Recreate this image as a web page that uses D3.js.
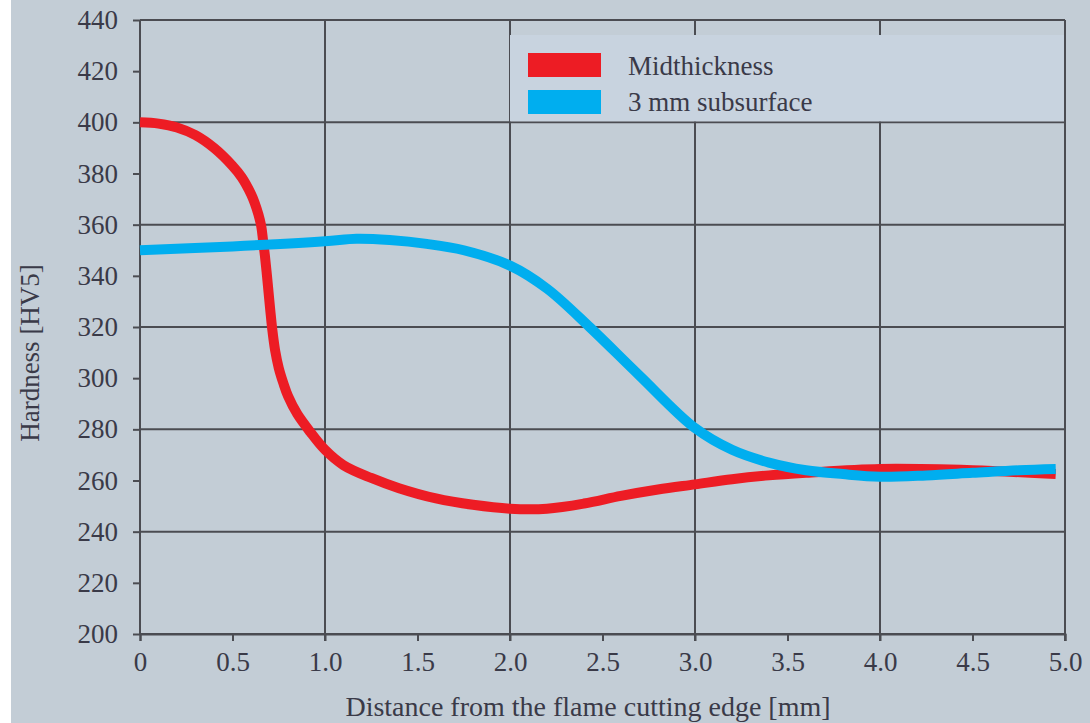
<!DOCTYPE html>
<html>
<head>
<meta charset="utf-8">
<script src="https://cdn.jsdelivr.net/npm/d3@7"></script>
<style>
  html, body { margin: 0; padding: 0; background: #fff; }
  svg { display: block; }
</style>
</head>
<body>
<svg id="chart" width="1090" height="723"></svg>
<script>
// values
var midX  = [0, 0.1, 0.2, 0.3, 0.4, 0.5, 0.55, 0.6, 0.62, 0.64, 0.655, 0.665, 0.675, 0.685, 0.695, 0.705, 0.715, 0.73, 0.75, 0.775, 0.8, 0.85, 0.92, 1.0, 1.1, 1.25, 1.4, 1.6, 1.8, 2.0, 2.2, 2.4, 2.6, 2.8, 3.0, 3.2, 3.4, 3.6, 4.0, 4.5, 4.95]
var midHV = [400, 399.5, 398, 395, 390, 383, 378.5, 372, 368.5, 364, 359.5, 354, 348, 341, 333.5, 326, 319, 311, 304, 298, 293, 286, 279, 272, 266, 261, 257, 253, 250.5, 249, 249, 251, 254, 256.5, 258.5, 260.5, 262, 263, 264.5, 264, 262.5]

var subX  = [0, 0.5, 1.0, 1.17, 1.35, 1.55, 1.75, 2.0, 2.2, 2.43, 2.7, 3.0, 3.2, 3.4, 3.6, 3.8, 4.0, 4.25, 4.5, 4.75, 4.95]
var subHV = [350, 351.5, 353.5, 354.5, 354, 352.5, 350, 344, 335, 320, 301, 280.5, 272, 267, 264, 262.5, 261.5, 262, 263, 264, 264.5]

var xTicks = [0, 0.5, 1.0, 1.5, 2.0, 2.5, 3.0, 3.5, 4.0, 4.5, 5.0]
var xTickLabels = ["0", "0.5", "1.0", "1.5", "2.0", "2.5", "3.0", "3.5", "4.0", "4.5", "5.0"]
var xGrid = [1, 2, 3, 4, 5]
var yTicks = [200, 220, 240, 260, 280, 300, 320, 340, 360, 380, 400, 420, 440]
var yGrid = [200, 240, 280, 320, 360, 400, 440]

var seriesNames = ["Midthickness", "3 mm subsurface"]
var seriesColors = ["#ed1c24", "#00aeef"]

var serif = "'Liberation Serif', 'Times New Roman', 'DejaVu Serif', serif"
var textColor = "#3a3a48"

var svg = d3.select("#chart")
var W = 1090, H = 723
var margin = {left: 140, right: 25, top: 20, bottom: 89}

svg.append("rect").attr("x", 11).attr("y", 0).attr("width", W - 11).attr("height", H).attr("fill", "#c3cdd6")

var x = d3.scaleLinear().domain([0, 5]).range([margin.left, W - margin.right])
var y = d3.scaleLinear().domain([200, 440]).range([H - margin.bottom, margin.top])

var gridColor = "#4b4c52"

// grid
svg.append("g").selectAll("line").data(xGrid).enter().append("line")
  .attr("x1", function(d) { return x(d) }).attr("x2", function(d) { return x(d) })
  .attr("y1", y(440)).attr("y2", y(200) + 7)
  .attr("stroke", gridColor).attr("stroke-width", 2)

svg.append("g").selectAll("line").data(yGrid).enter().append("line")
  .attr("x1", x(0)).attr("x2", x(5))
  .attr("y1", function(d) { return y(d) }).attr("y2", function(d) { return y(d) })
  .attr("stroke", gridColor).attr("stroke-width", 2)

// axes
var yAxis = d3.axisLeft(y).tickValues(yTicks).tickSize(7).tickPadding(15)
var gy = svg.append("g").attr("transform", "translate(" + x(0) + ",0)").call(yAxis)
var xAxis = d3.axisBottom(x).tickValues(xTicks).tickSize(7).tickPadding(11)
  .tickFormat(function(d, i) { return xTickLabels[i] })
var gx = svg.append("g").attr("transform", "translate(0," + y(200) + ")").call(xAxis)

;[gx, gy].forEach(function(g) {
  g.select(".domain").attr("stroke", gridColor).attr("stroke-width", 2)
  g.selectAll(".tick line").attr("stroke", gridColor).attr("stroke-width", 2)
  g.selectAll(".tick text").style("font-size", "27px").style("font-family", serif).attr("fill", textColor)
})
gy.select(".domain").attr("d", "M0," + y(440) + "V" + y(200))

// legend
var lg = svg.append("g")
lg.append("rect").attr("x", 510).attr("y", 35).attr("width", x(5) - 511).attr("height", y(400) - 36)
  .attr("fill", "#c8d3df")
seriesNames.forEach(function(name, i) {
  lg.append("rect").attr("x", 528).attr("y", 53 + i * 37).attr("width", 73).attr("height", 24)
    .attr("fill", seriesColors[i])
  lg.append("text").attr("x", 628).attr("y", 75 + i * 36)
    .style("font-size", "27px").style("font-family", serif).attr("fill", textColor).text(name)
})

// lines
var line = d3.line()
  .x(function(d) { return x(d[0]) })
  .y(function(d) { return y(d[1]) })
  .curve(d3.curveCatmullRom.alpha(0.5))

var midData = d3.zip(midX, midHV)
var subData = d3.zip(subX, subHV)

svg.append("path").datum(midData).attr("d", line)
  .attr("fill", "none").attr("stroke", seriesColors[0]).attr("stroke-width", 10)
svg.append("path").datum(subData).attr("d", line)
  .attr("fill", "none").attr("stroke", seriesColors[1]).attr("stroke-width", 10)

// titles
svg.append("text").attr("x", 588).attr("y", 716).attr("text-anchor", "middle")
  .style("font-size", "28px").style("font-family", serif).attr("fill", textColor)
  .text("Distance from the flame cutting edge [mm]")
svg.append("text").attr("transform", "translate(39,353) rotate(-90)").attr("text-anchor", "middle")
  .style("font-size", "27px").style("font-family", serif).attr("fill", textColor)
  .text("Hardness [HV5]")
</script>
</body>
</html>
